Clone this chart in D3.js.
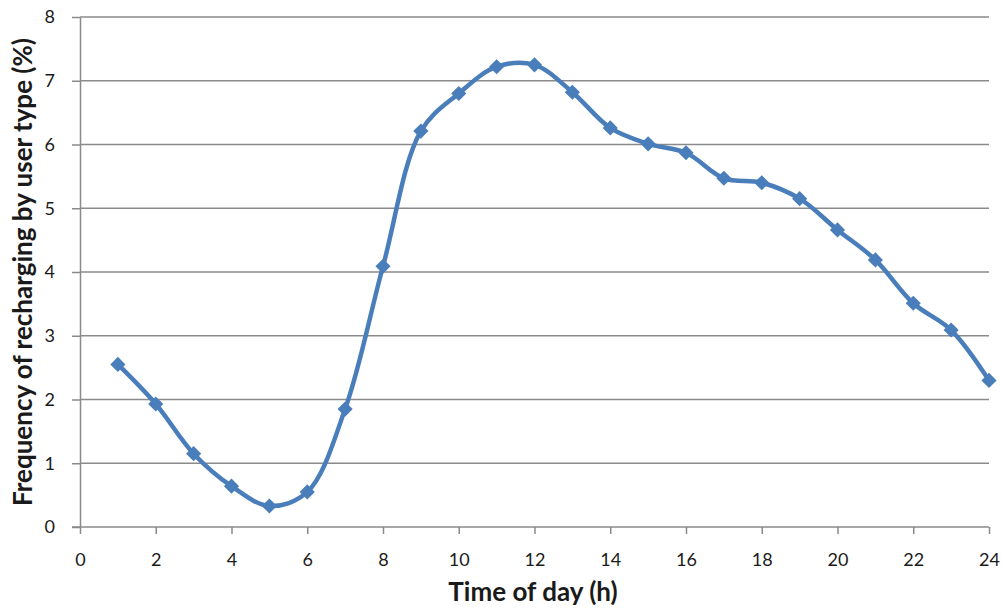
<!DOCTYPE html>
<html>
<head>
<meta charset="utf-8">
<script src="https://cdn.jsdelivr.net/npm/d3@7"></script>
<style>
  body { margin: 0; background: #fff; }
  text { font-family: Lato, "Open Sans", sans-serif; fill: #1a1a1a; }
</style>
</head>
<body>
<svg id="chart"></svg>
<script>
// hour of day and share of recharges (%)
var hours = [1, 2, 3, 4, 5, 6, 7, 8, 9, 10, 11, 12, 13, 14, 15, 16, 17, 18, 19, 20, 21, 22, 23, 24];
var freq = [2.55, 1.93, 1.15, 0.64, 0.33, 0.55, 1.85, 4.09, 6.21, 6.8, 7.22, 7.25,
            6.82, 6.26, 6.01, 5.87, 5.47, 5.4, 5.15, 4.66, 4.19, 3.51, 3.09, 2.3];
var xTicks = [0, 2, 4, 6, 8, 10, 12, 14, 16, 18, 20, 22, 24];
var yTicks = [0, 1, 2, 3, 4, 5, 6, 7, 8];

var width = 1002, height = 609;
var margin = { top: 17, right: 13, bottom: 82, left: 80 };

var svg = d3.select("#chart").attr("width", width).attr("height", height);

var x = d3.scaleLinear().domain([0, 24]).range([margin.left, width - margin.right]);
var y = d3.scaleLinear().domain([0, 8]).range([height - margin.bottom, margin.top]);

var grey = "#8a8a8a";

// y axis ticks
var yAxis = svg.append("g")
  .attr("transform", "translate(" + margin.left + ",0)")
  .call(d3.axisLeft(y).tickValues(yTicks).tickSize(8).tickPadding(17)
    .tickSizeOuter(0));
yAxis.select(".domain").attr("stroke", grey).attr("stroke-width", 1.5);
yAxis.selectAll(".tick line").attr("stroke", grey).attr("stroke-width", 1.5);
yAxis.selectAll(".tick text").style("font-size", "18px").attr("fill", "#1a1a1a");

// horizontal gridlines
svg.append("g").selectAll("line")
  .data(yTicks.filter(function (d) { return d > 0; }))
  .enter().append("line")
  .attr("x1", margin.left)
  .attr("x2", width - margin.right)
  .attr("y1", function (d) { return y(d); })
  .attr("y2", function (d) { return y(d); })
  .attr("stroke", grey)
  .attr("stroke-width", 1.5);

// x axis
var xAxis = svg.append("g")
  .attr("transform", "translate(0," + y(0) + ")")
  .call(d3.axisBottom(x).tickValues(xTicks).tickSize(7).tickPadding(19)
    .tickSizeOuter(0));
xAxis.select(".domain").attr("stroke", grey).attr("stroke-width", 1.5)
  .attr("d", "M" + (margin.left - 8) + ",0H" + x(24));
xAxis.selectAll(".tick line").attr("stroke", grey).attr("stroke-width", 1.5);
xAxis.selectAll(".tick text").style("font-size", "18px").attr("fill", "#1a1a1a");

// smoothed series
var line = d3.line()
  .x(function (d, i) { return x(hours[i]); })
  .y(function (d) { return y(d); })
  .curve(d3.curveCatmullRom.alpha(0.5));

svg.append("path")
  .datum(freq)
  .attr("fill", "none")
  .attr("stroke", "#4a7ebb")
  .attr("stroke-width", 4.5)
  .attr("d", line);

var diamond = d3.symbol().type(d3.symbolSquare).size(115);
svg.append("g").selectAll("path")
  .data(freq)
  .enter().append("path")
  .attr("d", diamond)
  .attr("fill", "#4a7ebb")
  .attr("transform", function (d, i) {
    return "translate(" + x(hours[i]) + "," + y(d) + ") rotate(45)";
  });

// titles
svg.append("text")
  .attr("x", 533)
  .attr("y", 601)
  .attr("text-anchor", "middle")
  .style("font-size", "26px")
  .style("font-weight", "bold")
  .text("Time of day (h)");

svg.append("text")
  .attr("transform", "translate(32," + 272 + ") rotate(-90)")
  .attr("text-anchor", "middle")
  .style("font-size", "26px")
  .style("font-weight", "bold")
  .text("Frequency of recharging by user type (%)");
</script>
</body>
</html>
